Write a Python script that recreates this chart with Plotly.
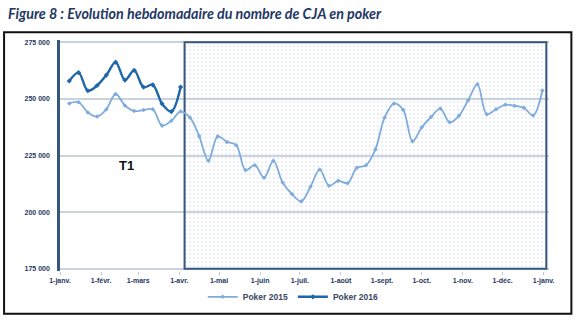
import plotly.graph_objects as go
import pandas as pd

# ---------------- data ----------------
weeks_2015 = pd.date_range("2015-01-08", periods=52, freq="7D")
poker_2015 = [248000, 248500, 244000, 242200, 245400, 252150, 247100, 244650, 245100, 245400,
              238200, 240350, 244400, 241800, 233600, 222650, 233450, 231000, 229550, 218550,
              220700, 215200, 222650, 213050, 208000, 204750, 211200, 218800, 211650, 213800,
              212750, 219550, 220700, 227700, 241800, 247950, 245100, 231300, 237500, 242000,
              245700, 239650, 242500, 249400, 256450, 243250, 245400, 247400, 246950, 246100,
              242650, 253700]
poker_2016 = [257900, 261600, 253600, 255900, 260500, 266200, 258300, 262600, 255200, 256200,
              247850, 244400, 255200]
weeks_2016 = weeks_2015[:len(poker_2016)]

month_ticks = pd.date_range("2015-01-01", "2016-01-01", freq="MS")
month_labels = ["1-janv.", "1-févr.", "1-mars", "1-avr.", "1-mai", "1-juin", "1-juil.",
                "1-août", "1-sept.", "1-oct.", "1-nov.", "1-déc.", "1-janv."]
y_ticks = [175000, 200000, 225000, 250000, 275000]
y_labels = ["175 000", "200 000", "225 000", "250 000", "275 000"]

# highlighted period (after T1)
region_start = pd.Timestamp("2015-04-05")
region_end = pd.Timestamp("2016-01-03")
region_low, region_high = 175000, 275000

title_text = "Figure 8 : Evolution hebdomadaire du nombre de CJA en poker"
label_t1 = "T1"
t1_pos = (pd.Timestamp("2015-02-20"), 220500)

# ---------------- layout constants ----------------
W, H = 576, 323
x_range = [pd.Timestamp("2015-01-01"), pd.Timestamp("2016-01-05")]
y_range = [174000, 276000]
ML, MR, MT, MB = 59.5, 26.9, 40.4, 50.0
PW, PH = W - ML - MR, H - MT - MB

def px_to_paper_x(px):
    return (px - ML) / PW

def px_to_paper_y(py):
    return (H - MB - py) / PH

NAVY = "#1F3864"
AXIS_BLUE = "#36557F"
GRID = "#C9D2DF"
C2015 = "#7FACDD"
C2016 = "#2067AA"

fig = go.Figure()

mid = region_start + (region_end - region_start) / 2
width_ms = (region_end - region_start).total_seconds() * 1000
fig.add_trace(go.Bar(
    x=[mid], y=[region_high - region_low], base=[region_low], width=[width_ms],
    marker=dict(color="rgba(0,0,0,0)",
                pattern=dict(shape=".", fgcolor="#B3C2D8", bgcolor="rgba(0,0,0,0)",
                             size=4, solidity=0.15),
                line=dict(color=AXIS_BLUE, width=2)),
    showlegend=False, hoverinfo="skip"))

fig.add_trace(go.Scatter(
    x=weeks_2015, y=poker_2015, name="Poker 2015", mode="lines+markers",
    line=dict(color=C2015, width=1.8, shape="spline", smoothing=1),
    marker=dict(size=3.5, color=C2015, symbol="diamond")))
fig.add_trace(go.Scatter(
    x=weeks_2016, y=poker_2016, name="Poker 2016", mode="lines+markers",
    line=dict(color=C2016, width=2.4, shape="spline", smoothing=1),
    marker=dict(size=4, color=C2016, symbol="diamond")))

fig.add_annotation(x=t1_pos[0], y=t1_pos[1], text=label_t1, showarrow=False,
                   font=dict(family="Liberation Sans", size=13, color="#111111", weight="bold"))

# outer frame
fig.add_shape(type="rect", xref="paper", yref="paper",
              x0=px_to_paper_x(3.5), x1=px_to_paper_x(571.5),
              y0=px_to_paper_y(316), y1=px_to_paper_y(32.5),
              line=dict(color="#111111", width=2), layer="above")

fig.update_layout(
    width=W, height=H, margin=dict(l=ML, r=MR, t=MT, b=MB),
    paper_bgcolor="white", plot_bgcolor="white",
    title=dict(text=title_text, xref="container", yref="container", x=8 / W, y=1 - 14 / H,
               xanchor="left", yanchor="middle",
               font=dict(family="Lato", size=14.3, color=NAVY, style="italic", weight="bold")),
    showlegend=True,
    legend=dict(orientation="h", x=px_to_paper_x(293), xanchor="center",
                y=px_to_paper_y(299), yanchor="middle",
                font=dict(family="Liberation Sans", size=8.5, color="#3C4660", weight="bold"),
                bgcolor="rgba(0,0,0,0)", itemwidth=30),
    xaxis=dict(type="date", range=x_range, tickvals=month_ticks, ticktext=month_labels,
               showgrid=False, zeroline=False, showline=False,
               ticks="outside", ticklen=3, tickcolor="#BFC8D6",
               tickfont=dict(family="Liberation Sans", size=7, color=NAVY, weight="bold")),
    yaxis=dict(range=y_range, tickvals=y_ticks, ticktext=y_labels,
               showgrid=True, gridcolor=GRID, gridwidth=1.5, zeroline=False,
               showline=True, linecolor=AXIS_BLUE, linewidth=2.5,
               ticks="", ticklabelstandoff=6,
               tickfont=dict(family="Liberation Sans", size=7, color=NAVY, weight="bold")),
)

fig.write_html("out.html")
